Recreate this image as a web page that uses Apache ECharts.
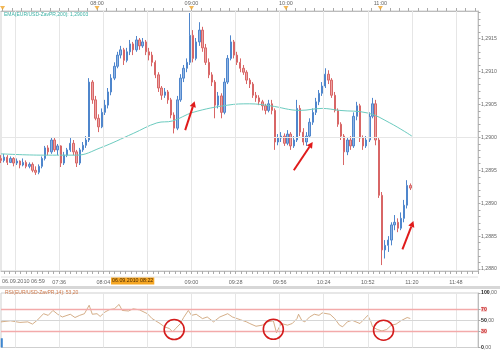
<!DOCTYPE html>
<html><head><meta charset="utf-8">
<script src="https://cdn.jsdelivr.net/npm/echarts@6/dist/echarts.min.js"></script>
<style>html,body{margin:0;padding:0;background:#fff}#c{width:500px;height:354px}</style>
</head><body><div id="c"></div>
<script>
// ---------------- DATA ----------------
const candleTimes = ["06:59","07:01","07:03","07:05","07:07","07:09","07:11","07:13","07:15","07:17",
"07:19","07:21","07:23","07:25","07:27","07:29","07:31","07:33","07:35","07:37",
"07:39","07:41","07:43","07:45","07:47","07:49","07:51","07:53","07:55","07:57",
"07:59","08:01","08:03","08:05","08:07","08:09","08:11","08:13","08:15","08:17",
"08:19","08:21","08:23","08:25","08:27","08:29","08:31","08:33","08:35","08:37",
"08:39","08:41","08:43","08:45","08:47","08:49","08:51","08:53","08:55","08:57",
"08:59","09:01","09:03","09:05","09:07","09:09","09:11","09:13","09:15","09:17",
"09:19","09:21","09:23","09:25","09:27","09:29","09:31","09:33","09:35","09:37",
"09:39","09:41","09:43","09:45","09:47","09:49","09:51","09:53","09:55","09:57",
"09:59","10:01","10:03","10:05","10:07","10:09","10:11","10:13","10:15","10:17",
"10:19","10:21","10:23","10:25","10:27","10:29","10:31","10:33","10:35","10:37",
"10:39","10:41","10:43","10:45","10:47","10:49","10:51","10:53","10:55","10:57",
"10:59","11:01","11:03","11:05","11:07","11:09","11:11","11:13","11:15","11:17","11:19"];

const openP = [1.28968,1.28965,1.28970,1.28962,1.28968,1.28961,1.28964,1.28958,1.28962,1.28956,
1.28959,1.28950,1.28947,1.28956,1.28968,1.28984,1.28978,1.28996,1.28981,1.28987,
1.28961,1.28973,1.28981,1.28991,1.28978,1.28961,1.28981,1.28988,1.28996,1.29084,
1.29057,1.29029,1.29016,1.29038,1.29049,1.29069,1.29090,1.29108,1.29125,1.29133,
1.29117,1.29130,1.29142,1.29133,1.29148,1.29139,1.29145,1.29130,1.29125,1.29114,
1.29095,1.29075,1.29064,1.29069,1.29057,1.29034,1.29014,1.29057,1.29090,1.29105,
1.29114,1.29155,1.29120,1.29145,1.29163,1.29136,1.29114,1.29095,1.29084,1.29049,
1.29063,1.29038,1.29084,1.29120,1.29145,1.29125,1.29114,1.29105,1.29099,1.29087,
1.29081,1.29064,1.29060,1.29054,1.29048,1.29041,1.29051,1.29041,1.28993,1.28999,
1.29002,1.28991,1.29005,1.28987,1.28996,1.29044,1.29008,1.28993,1.29002,1.29023,
1.29038,1.29054,1.29067,1.29078,1.29096,1.29087,1.29064,1.29041,1.29020,1.29002,
1.28978,1.28996,1.28987,1.29032,1.29048,1.28999,1.28987,1.28996,1.29032,1.29051,
1.28996,1.28912,1.28829,1.28836,1.28844,1.28867,1.28871,1.28862,1.28877,1.28897,1.28927];

const closeP = [1.28965,1.28970,1.28962,1.28968,1.28961,1.28964,1.28958,1.28962,1.28956,1.28959,
1.28950,1.28947,1.28956,1.28968,1.28984,1.28978,1.28996,1.28981,1.28987,1.28961,
1.28973,1.28981,1.28991,1.28978,1.28961,1.28981,1.28988,1.28996,1.29084,1.29057,
1.29029,1.29016,1.29038,1.29049,1.29069,1.29090,1.29108,1.29125,1.29133,1.29117,
1.29130,1.29142,1.29133,1.29148,1.29139,1.29145,1.29130,1.29125,1.29114,1.29095,
1.29075,1.29064,1.29069,1.29057,1.29034,1.29014,1.29057,1.29090,1.29105,1.29114,
1.29155,1.29120,1.29145,1.29163,1.29136,1.29114,1.29095,1.29084,1.29049,1.29063,
1.29038,1.29084,1.29120,1.29145,1.29125,1.29114,1.29105,1.29099,1.29087,1.29081,
1.29064,1.29060,1.29054,1.29048,1.29041,1.29051,1.29041,1.28993,1.28999,1.29002,
1.28991,1.29005,1.28987,1.28996,1.29044,1.29008,1.28993,1.29002,1.29023,1.29038,
1.29054,1.29067,1.29078,1.29096,1.29087,1.29064,1.29041,1.29020,1.29002,1.28978,
1.28996,1.28987,1.29032,1.29048,1.28999,1.28987,1.28996,1.29032,1.29051,1.28996,
1.28912,1.28829,1.28836,1.28844,1.28867,1.28871,1.28862,1.28877,1.28897,1.28927,1.28923];

const lowP = [1.28961,1.28962,1.28958,1.28961,1.28956,1.28958,1.28953,1.28956,1.28953,1.28953,
1.28947,1.28943,1.28944,1.28953,1.28965,1.28973,1.28975,1.28978,1.28973,1.28955,
1.28958,1.28970,1.28978,1.28973,1.28955,1.28958,1.28978,1.28984,1.28993,1.29051,
1.29026,1.29008,1.29014,1.29034,1.29044,1.29064,1.29087,1.29105,1.29120,1.29110,
1.29114,1.29125,1.29125,1.29130,1.29133,1.29136,1.29125,1.29117,1.29108,1.29090,
1.29069,1.29057,1.29060,1.29051,1.29029,1.29006,1.29011,1.29054,1.29084,1.29099,
1.29110,1.29114,1.29117,1.29139,1.29130,1.29110,1.29090,1.29078,1.29029,1.29044,
1.29029,1.29035,1.29081,1.29117,1.29120,1.29110,1.29099,1.29095,1.29081,1.29075,
1.29060,1.29054,1.29049,1.29041,1.29035,1.29038,1.29035,1.28981,1.28988,1.28993,
1.28987,1.28988,1.28981,1.28984,1.28993,1.29002,1.28988,1.28987,1.28999,1.29019,
1.29034,1.29049,1.29063,1.29075,1.29081,1.29060,1.29038,1.29016,1.28996,1.28958,
1.28973,1.28981,1.28984,1.29026,1.28993,1.28981,1.28984,1.28993,1.29029,1.28988,
1.28908,1.28806,1.28816,1.28826,1.28836,1.28859,1.28856,1.28859,1.28871,1.28892,1.28920];

const highP = [1.28973,1.28975,1.28973,1.28971,1.28970,1.28968,1.28965,1.28968,1.28965,1.28962,
1.28962,1.28956,1.28959,1.28971,1.28987,1.28988,1.29000,1.28999,1.28990,1.28988,
1.28978,1.28984,1.28999,1.28996,1.28981,1.28984,1.28993,1.29002,1.29090,1.29087,
1.29063,1.29035,1.29044,1.29057,1.29075,1.29096,1.29114,1.29130,1.29139,1.29136,
1.29136,1.29148,1.29145,1.29154,1.29151,1.29151,1.29148,1.29136,1.29130,1.29117,
1.29099,1.29078,1.29075,1.29072,1.29060,1.29038,1.29063,1.29096,1.29110,1.29120,
1.29189,1.29163,1.29151,1.29175,1.29168,1.29142,1.29120,1.29099,1.29087,1.29069,
1.29067,1.29090,1.29125,1.29155,1.29148,1.29130,1.29120,1.29110,1.29102,1.29090,
1.29084,1.29069,1.29064,1.29057,1.29051,1.29057,1.29057,1.29044,1.29005,1.29008,
1.29006,1.29011,1.29008,1.29002,1.29057,1.29049,1.29014,1.29008,1.29029,1.29044,
1.29060,1.29072,1.29084,1.29105,1.29102,1.29090,1.29069,1.29044,1.29023,1.29005,
1.28999,1.29002,1.29038,1.29054,1.29051,1.29003,1.29002,1.29038,1.29060,1.29057,
1.28999,1.28917,1.28844,1.28850,1.28871,1.28882,1.28877,1.28886,1.28905,1.28935,1.28930];

const emaTimes  = ["06:59","07:26","07:47","08:02","08:23","08:38","08:48","09:01","09:23","09:37","09:50","10:09","10:23","10:34","10:52","11:06","11:20"];
const emaValues = [1.28975,1.28973,1.28973,1.28984,1.29006,1.29022,1.29025,1.29038,1.29049,1.29051,1.29048,1.29041,1.29044,1.29041,1.29037,1.29022,1.29002];

const rsiTimes = ["06:59","07:05","07:11","07:16","07:19","07:22","07:26","07:29","07:32","07:35","07:38","07:43","07:46","07:49","07:52","07:55","07:57","08:00","08:02","08:05","08:08","08:11","08:14","08:16","08:20","08:23","08:27","08:32","08:35","08:40","08:43","08:46","08:48","08:50","08:53","08:55","08:58","09:00","09:03","09:07","09:10","09:14","09:18","09:23","09:26","09:31","09:35","09:37","09:41","09:45","09:48","09:52","09:54","09:55","09:57","10:01","10:04","10:07","10:08","10:10","10:12","10:15","10:18","10:21","10:23","10:28","10:31","10:34","10:36","10:39","10:42","10:47","10:50","10:52","10:54","10:55","10:58","11:01","11:04","11:07","11:10","11:13","11:17","11:19"];
const rsiValues = [47,49,46,47,43,50,62,59,68,61,56,61,55,59,62,77.5,61,62,57,65,69.6,71,79,68,67,71,69,62,53,44,37.7,34.8,28.6,35,44,55,68,59,61,53,56,47,56,62,56,51,47,44,39,41,47,49,27,33,44,41,44,53,61,50,47,56,61,59,63.5,61,53,41,38,47,50,44,53,59,47,38,33,30.4,33,41,43,49,55,53.2];
const rsiWarmupTime = "06:59";
const rsiWarmup = [0, 17];

const priceLabelValues = [1.2880,1.2885,1.2890,1.2895,1.2900,1.2905,1.2910,1.2915];
const priceFlags = [1.29159, 1.28923];
const bottomLabelTimes = ["07:36","08:04","09:00","09:28","09:56","10:24","10:52","11:20","11:48"];
const gridTimes = ["07:08","07:36","08:04","08:32","09:00","09:28","09:56","10:24","10:52","11:20","11:48"];
const topLabelTimes = ["08:00","09:00","10:00","11:00"];
const topMarkerTimes = ["07:00","08:00","09:00","10:00","11:00"];
const rsiLabelValues = [0,30,50,70,100];
const rsiLevels = [30,50,70];
const startLabel = "06.09.2010 06:59";
const cursorTime = "08:22";
const cursorLabel = "06.09.2010 08:22";
const emaLabel = "EMA(EUR/USD-ZavPR,200): 1,29003";
const rsiLabel = "RSI(EUR/USD-ZavPR,14): 53,20";
const arrowFrom = [["08:56",1.29011],["10:05",1.28950],["11:14",1.28830]];
const arrowTo   = [["09:02",1.29055],["10:17",1.28993],["11:21",1.28873]];
const rsiCircles = [["08:49",33],["09:52",33.5],["11:02",31.7]];

// ---------------- HELPERS ----------------
const pad = n => (n < 10 ? '0' : '') + n;
const toMin = s => parseInt(s.slice(0,2),10)*60 + parseInt(s.slice(3,5),10);
const fmt = m => pad(Math.floor(m/60)) + ':' + pad(Math.round(m % 60));
const X_MIN = toMin("06:59"), X_MAX = toMin("12:02");
const Y_MIN = 1.28797, Y_MAX = 1.29192;
const FONT = 'Liberation Sans';
const AX = '#bcbcbc', TXT = '#666';

const bottomTicks = []; for (let m = 421; m <= X_MAX; m += 3.5) bottomTicks.push(m);
const topTicks = []; for (let m = 420; m <= 720; m += 6) topTicks.push(m);
const priceTicks = []; for (let k = 0; k <= 39; k++) priceTicks.push(+(1.2880 + k*0.0001).toFixed(4));

const chart = echarts.init(document.getElementById('c'), null, {renderer:'canvas'});

const option = {
  animation: false,
  backgroundColor: '#fff',
  grid: [
    {left: 1, right: 22, top: 11, bottom: 83, show: true, borderColor: '#cfcfcf', borderWidth: 1, backgroundColor: '#fff'},
    {left: 1, right: 22, top: 293, bottom: 6.5, show: true, borderColor: '#cfcfcf', borderWidth: 1, backgroundColor: '#fff'}
  ],
  xAxis: [
    {type:'value', gridIndex:0, position:'bottom', min:X_MIN, max:X_MAX,
     axisLine:{show:true, onZero:false, lineStyle:{color:AX}},
     axisTick:{show:true, customValues:bottomTicks, length:3, lineStyle:{color:'#aaa'}},
     axisLabel:{show:true, customValues:bottomLabelTimes.map(toMin), formatter:v=>fmt(v), fontSize:5.5, fontFamily:FONT, color:TXT, margin:8},
     splitLine:{show:false}},
    {type:'value', gridIndex:0, position:'top', min:X_MIN, max:X_MAX,
     axisLine:{show:true, onZero:false, lineStyle:{color:AX}},
     axisTick:{show:true, customValues:topTicks, length:3, lineStyle:{color:'#aaa'}},
     axisLabel:{show:true, customValues:topLabelTimes.map(toMin), formatter:v=>fmt(v), fontSize:5.5, fontFamily:FONT, color:TXT, margin:5},
     splitLine:{show:false}},
    {type:'value', gridIndex:1, position:'bottom', min:X_MIN, max:X_MAX,
     axisLine:{show:false, onZero:false}, axisTick:{show:false}, axisLabel:{show:false}, splitLine:{show:false}}
  ],
  yAxis: [
    {type:'value', gridIndex:0, position:'right', min:Y_MIN, max:Y_MAX, scale:true,
     axisLine:{show:true, onZero:false, lineStyle:{color:AX}},
     axisTick:{show:true, customValues:priceTicks, length:2.5, lineStyle:{color:'#aaa'}},
     axisLabel:{show:true, customValues:priceLabelValues, formatter:v=>v.toFixed(4).replace('.',','), fontSize:5.2, fontFamily:FONT, color:TXT, margin:3},
     splitLine:{show:false}},
    {type:'value', gridIndex:1, position:'right', min:0, max:100,
     axisLine:{show:true, onZero:false, lineStyle:{color:AX}},
     axisTick:{show:true, customValues:rsiLabelValues, length:2.5, lineStyle:{color:'#aaa'}},
     axisLabel:{show:true, customValues:rsiLabelValues, fontSize:5.2, fontFamily:FONT, color:TXT, margin:3,
       formatter: v => (v === 70 || v === 30) ? '{r|' + v + '}' : '{b|' + v + '},00',
       rich:{ b:{fontSize:5.2, fontFamily:FONT, color:'#222', fontWeight:'bold'},
              r:{fontSize:5.2, fontFamily:FONT, color:'#c62828', fontWeight:'bold', backgroundColor:'#f8d0d0'} }},
     splitLine:{show:false}}
  ],
  series: [
    {type:'line', xAxisIndex:0, yAxisIndex:0, z:1, silent:true, symbol:'none',
     data:[[X_MIN, Y_MIN]], lineStyle:{opacity:0},
     markLine:{silent:true, symbol:['none','none'], animation:false, label:{show:false},
       lineStyle:{color:'#e6e6e6', width:1, type:'solid'},
       data:[...gridTimes.map(t=>({xAxis:toMin(t)})), ...priceLabelValues.map(v=>({yAxis:v}))]}},
    {type:'line', xAxisIndex:2, yAxisIndex:1, z:1, silent:true, symbol:'none',
     data:[[X_MIN, 0]], lineStyle:{opacity:0},
     markLine:{silent:true, symbol:['none','none'], animation:false, label:{show:false},
       lineStyle:{color:'#e6e6e6', width:1, type:'solid'},
       data:gridTimes.map(t=>({xAxis:toMin(t)}))}},
    {type:'candlestick', name:'EUR/USD', xAxisIndex:0, yAxisIndex:0, z:3,
     data: candleTimes.map((t,i)=>[toMin(t), openP[i], closeP[i], lowP[i], highP[i]]),
     encode:{x:0, y:[1,2,3,4]},
     barWidth: 1.9,
     itemStyle:{color:'#8fb4e4', color0:'#eba4a4', borderColor:'#4f86cc', borderColor0:'#d86666', borderWidth:1},
     markLine:{silent:true, symbol:['none','none'], animation:false, lineStyle:{opacity:0},
       data: priceFlags.map((v,i)=>({yAxis:v, label:{show:true, position:'end', distance:1,
         formatter: p => (+p.value).toFixed(5).replace('.',','),
         fontSize:5.2, fontFamily:FONT, fontWeight:'bold', padding:[1,2,1,2],
         color: i===0 ? '#5a3300' : '#12306a',
         backgroundColor: i===0 ? '#f5a623' : '#9fdcf2'}}))}},
    {type:'line', name:'EMA', xAxisIndex:0, yAxisIndex:0, z:4, smooth:0.4, showSymbol:false, symbol:'none',
     data: emaTimes.map((t,i)=>[toMin(t), emaValues[i]]),
     lineStyle:{color:'#6ccbbf', width:1}},
    {type:'scatter', xAxisIndex:1, yAxisIndex:0, z:6, clip:false, silent:true,
     data: topMarkerTimes.map(t=>[toMin(t), Y_MAX]),
     symbol:'triangle', symbolRotate:180, symbolSize:[5,4], symbolOffset:[0,-3],
     itemStyle:{color:'#f0a52a'}},
    {type:'line', name:'RSI', xAxisIndex:2, yAxisIndex:1, z:4, showSymbol:false, symbol:'none',
     data: rsiTimes.map((t,i)=>[toMin(t), rsiValues[i]]),
     lineStyle:{color:'#c9996a', width:0.8},
     markLine:{silent:true, symbol:['none','none'], animation:false, label:{show:false},
       data: rsiLevels.map(v=>({yAxis:v, lineStyle:{color: v===50 ? '#d6d6d6' : '#f3aaaa', width: v===50 ? 1 : 1.4, type:'solid'}}))}},
    {type:'line', xAxisIndex:2, yAxisIndex:1, z:4, showSymbol:false, symbol:'none',
     data: rsiWarmup.map(v=>[toMin(rsiWarmupTime)+0.5, v]),
     lineStyle:{color:'#3d86d0', width:2}}
  ]
};
chart.setOption(option);

// ---------------- ANNOTATIONS ----------------
const pMain = (t,p) => chart.convertToPixel({xAxisIndex:0, yAxisIndex:0}, [toMin(t), p]);
const pRsi = (t,v) => chart.convertToPixel({xAxisIndex:2, yAxisIndex:1}, [toMin(t), v]);
const g = [];
const mainBottom = pMain("06:59", Y_MIN)[1];
const xLeft = pMain("06:59", Y_MIN)[0];
const xRight = chart.convertToPixel({xAxisIndex:0}, X_MAX);
g.push({type:'line', shape:{x1:xLeft, y1:mainBottom+6, x2:xRight, y2:mainBottom+6}, style:{stroke:'#e0e0e0', lineWidth:1}, silent:true});
g.push({type:'rect', shape:{x:0, y:mainBottom+15, width:500, height:3}, style:{fill:'#d7d7d7'}, silent:true});
g.push({type:'text', silent:true, style:{text:startLabel, x:xLeft+1, y:mainBottom+10, fill:TXT, fontSize:5.5, fontFamily:FONT, align:'left', verticalAlign:'middle'}});
const cx = pMain(cursorTime, Y_MIN)[0];
g.push({type:'text', silent:true, z:10, style:{text:cursorLabel, x:cx+1, y:mainBottom+10, fill:'#4a2a00', fontSize:5.3, fontFamily:FONT, align:'center', verticalAlign:'middle', backgroundColor:'#f5a623', padding:[1,1,1,1]}});
const topY = pMain("06:59", Y_MAX)[1];
g.push({type:'text', silent:true, z:10, style:{text:emaLabel, x:xLeft+3, y:topY+4, fill:'#3db3a6', fontSize:5, fontFamily:FONT, align:'left', verticalAlign:'middle'}});
const rsiTop = pRsi("06:59", 100)[1];
g.push({type:'text', silent:true, z:10, style:{text:rsiLabel, x:xLeft+4, y:rsiTop, fill:'#cf7a4c', fontSize:5, fontFamily:FONT, align:'left', verticalAlign:'middle'}});
arrowFrom.forEach((f,i)=>{
  const a = pMain(f[0], f[1]), b = pMain(arrowTo[i][0], arrowTo[i][1]);
  const dx=b[0]-a[0], dy=b[1]-a[1], L=Math.hypot(dx,dy), ux=dx/L, uy=dy/L;
  const hl=6, hw=3.2; const bx=b[0]-ux*hl, by=b[1]-uy*hl;
  g.push({type:'line', z:20, silent:true, shape:{x1:a[0],y1:a[1],x2:bx,y2:by}, style:{stroke:'#e01b1b', lineWidth:2}});
  g.push({type:'polygon', z:20, silent:true, shape:{points:[[b[0],b[1]],[bx-uy*hw, by+ux*hw],[bx+uy*hw, by-ux*hw]]}, style:{fill:'#e01b1b'}});
});
rsiCircles.forEach(c=>{
  const p = pRsi(c[0], c[1]);
  g.push({type:'circle', z:20, silent:true, shape:{cx:p[0], cy:p[1], r:10}, style:{fill:'none', stroke:'#d41c1c', lineWidth:1.6}});
});
chart.setOption({graphic: g});
</script>
</body></html>
